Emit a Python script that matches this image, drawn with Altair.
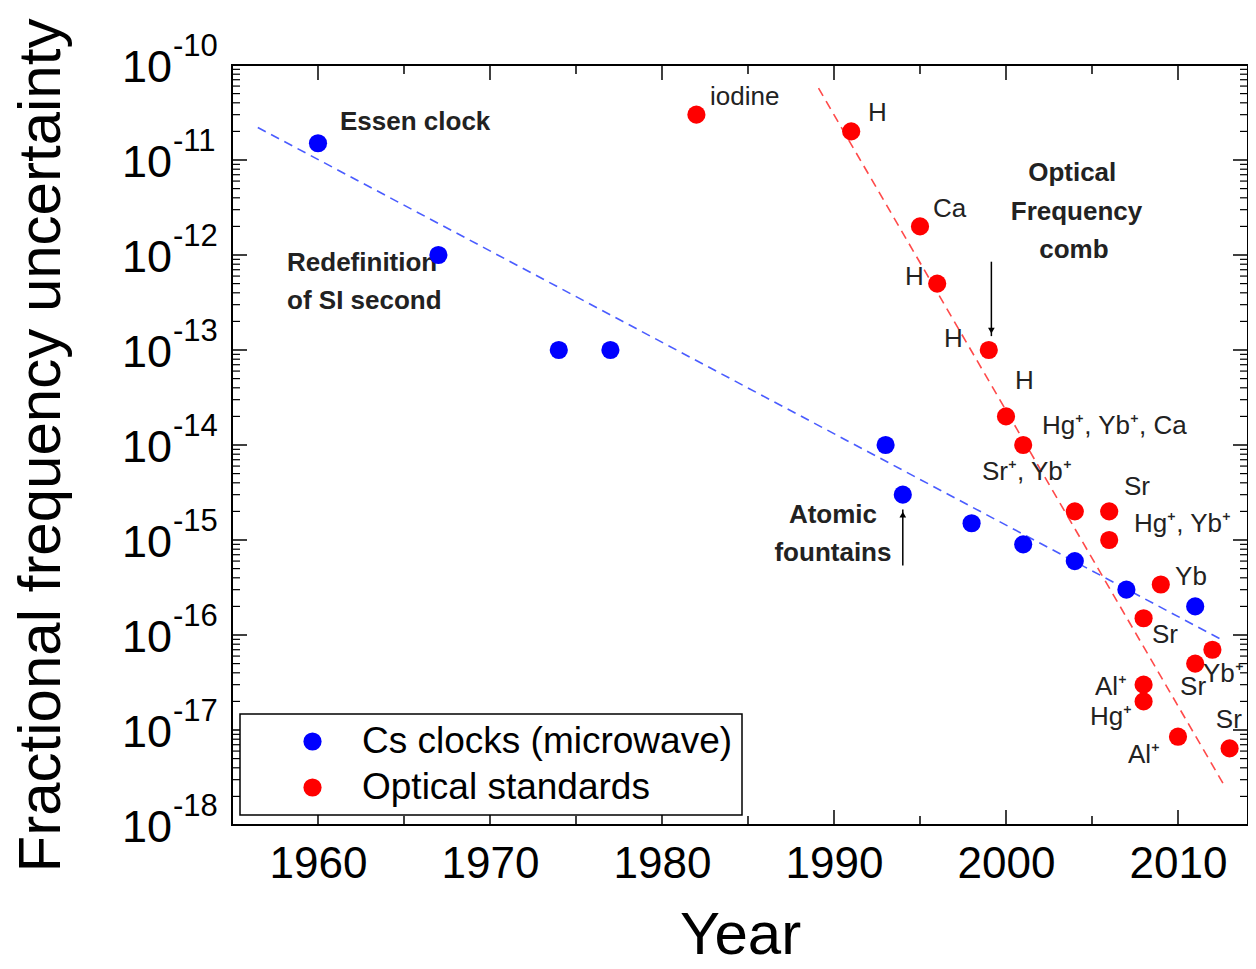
import altair as alt
import pandas as pd

FONT = "Liberation Sans, Arial, Helvetica, sans-serif"

# ---- data ----
cs_name = "Cs clocks (microwave)"
opt_name = "Optical standards"
cs_years = [1960, 1967, 1974, 1977, 1993, 1994, 1998, 2001, 2004, 2007, 2011]
cs_values = [1.5e-11, 1e-12, 1e-13, 1e-13, 1e-14, 3e-15, 1.5e-15, 9e-16, 6e-16, 3e-16, 2e-16]
opt_years = [1982, 1991, 1995, 1996, 1999, 2000, 2001, 2004, 2006, 2006,
             2009, 2008, 2012, 2011, 2008, 2008, 2010, 2013]
opt_values = [3e-11, 2e-11, 2e-12, 5e-13, 1e-13, 2e-14, 1e-14, 2e-15, 2e-15, 1e-15,
              3.4e-16, 1.5e-16, 7e-17, 5e-17, 3e-17, 2e-17, 8.5e-18, 6.4e-18]

cs_trend_years = [1956.5, 2012.5]
cs_trend_values = [2.2e-11, 9e-17]
opt_trend_years = [1989.1, 2012.75]
opt_trend_values = [5.7e-11, 2.5e-18]

# annotations (left aligned, normal weight)
ann_labels = ["iodine", "H", "Ca", "H", "H", "H", "Hg\u207a, Yb\u207a, Ca", "Sr\u207a, Yb\u207a",
              "Sr", "Hg\u207a, Yb\u207a", "Yb", "Sr", "Yb\u207a", "Sr", "Al\u207a", "Hg\u207a",
              "Al\u207a", "Sr"]
ann_years = [1982.79, 1991.98, 1995.76, 1994.13, 1996.4, 2000.52, 2002.09, 1998.6,
             2006.86, 2007.44, 2009.83, 2008.49, 2011.45, 2010.12, 2005.17, 2004.88,
             2007.09, 2012.2]
ann_values = [4.6e-11, 3.13e-11, 3.05e-12, 5.9e-13, 1.3e-13, 4.7e-14, 1.58e-14, 5.2e-15,
              3.6e-15, 1.48e-15, 4.1e-16, 1e-16, 3.9e-17, 2.84e-17, 2.84e-17, 1.37e-17,
              5.4e-18, 1.27e-17]

# bold annotations, left aligned
bold_left_labels = ["Essen clock", "Redefinition", "of SI second"]
bold_left_years = [1961.28, 1958.2, 1958.2]
bold_left_values = [2.5e-11, 8.24e-13, 3.28e-13]

# bold annotations, centred
bold_center_labels = ["Optical", "Frequency", "comb", "Atomic", "fountains"]
bold_center_years = [2003.85, 2004.1, 2003.95, 1989.94, 1989.94]
bold_center_values = [7.3e-12, 2.84e-12, 1.13e-12, 1.83e-15, 7.3e-16]

# arrows
arrow_years = [1999.15, 1994.0]
arrow_from = [8.5e-13, 5.4e-16]
arrow_to = [1.4e-13, 2.1e-15]
arrow_head_values = [1.6e-13, 1.85e-15]
arrow_head_shapes = ["triangle-down", "triangle-up"]

# axis ticks / labels
x_major = [1960, 1970, 1980, 1990, 2000, 2010]
x_minor = [1965, 1975, 1985, 1995, 2005]
y_exponents = [-10, -11, -12, -13, -14, -15, -16, -17, -18]
y_minor_mult = [2, 3, 4, 5, 6, 7, 8, 9]

W, H = 1016, 760

# ---- tables ----
points = pd.DataFrame({
    "year": cs_years + opt_years,
    "value": cs_values + opt_values,
    "series": [cs_name] * len(cs_years) + [opt_name] * len(opt_years),
})
cs_trend = pd.DataFrame({"year": cs_trend_years, "value": cs_trend_values})
opt_trend = pd.DataFrame({"year": opt_trend_years, "value": opt_trend_values})
ann = pd.DataFrame({"year": ann_years, "value": ann_values, "label": ann_labels})
bold_left = pd.DataFrame({"year": bold_left_years, "value": bold_left_values, "label": bold_left_labels})
bold_center = pd.DataFrame({"year": bold_center_years, "value": bold_center_values, "label": bold_center_labels})
arrows = pd.DataFrame({"year": arrow_years, "value": arrow_from, "value2": arrow_to})
heads = pd.DataFrame({"year": arrow_years, "value": arrow_head_values, "shape": arrow_head_shapes})
xmaj = pd.DataFrame({"year": x_major})
xmin = pd.DataFrame({"year": x_minor})
ymaj = pd.DataFrame({"value": [10.0 ** e for e in y_exponents],
                     "base": ["10"] * len(y_exponents),
                     "exp": [str(e) for e in y_exponents]})
ymin = pd.DataFrame({"value": [m * 10.0 ** e for e in y_exponents[1:] for m in y_minor_mult]})

xscale = alt.Scale(domain=[1955, 2014.07], nice=False, zero=False)
yscale = alt.Scale(type="log", domain=[1e-18, 1e-10], nice=False)
xaxis = alt.Axis(values=x_major, format="d", labelFontSize=44, labelFont=FONT, labelColor="black",
                 labelPadding=17, ticks=False, domain=False, grid=False,
                 title="Year", titleFontSize=60, titleFont=FONT, titleFontWeight="normal",
                 titleColor="black", titlePadding=20)
yaxis = alt.Axis(labels=False, ticks=False, domain=False, grid=False,
                 title="Fractional frequency uncertainty", titleFontSize=60, titleFont=FONT,
                 titleFontWeight="normal", titleColor="black", titlePadding=160)


def X():
    return alt.X("year:Q", scale=xscale, axis=xaxis)


def Y():
    return alt.Y("value:Q", scale=yscale, axis=yaxis)


tick_col = "black"
layers = []

# inside ticks
layers.append(alt.Chart(xmaj).mark_rule(color=tick_col, strokeWidth=1.5).encode(x=X(), y=alt.value(H), y2=alt.value(H - 15)))
layers.append(alt.Chart(xmaj).mark_rule(color=tick_col, strokeWidth=1.5).encode(x=X(), y=alt.value(0), y2=alt.value(15)))
layers.append(alt.Chart(xmin).mark_rule(color=tick_col, strokeWidth=1.5).encode(x=X(), y=alt.value(H), y2=alt.value(H - 9)))
layers.append(alt.Chart(xmin).mark_rule(color=tick_col, strokeWidth=1.5).encode(x=X(), y=alt.value(0), y2=alt.value(9)))
layers.append(alt.Chart(ymaj).mark_rule(color=tick_col, strokeWidth=1.5).encode(y=Y(), x=alt.value(0), x2=alt.value(15)))
layers.append(alt.Chart(ymaj).mark_rule(color=tick_col, strokeWidth=1.5).encode(y=Y(), x=alt.value(W), x2=alt.value(W - 15)))
layers.append(alt.Chart(ymin).mark_rule(color=tick_col, strokeWidth=1.2).encode(y=Y(), x=alt.value(0), x2=alt.value(8)))
layers.append(alt.Chart(ymin).mark_rule(color=tick_col, strokeWidth=1.2).encode(y=Y(), x=alt.value(W), x2=alt.value(W - 8)))

# y tick labels 10^n
layers.append(alt.Chart(ymaj).mark_text(align="right", baseline="middle", dy=3, fontSize=45, font=FONT,
                                        color="black").encode(y=Y(), x=alt.value(-60), text="base:N"))
layers.append(alt.Chart(ymaj).mark_text(align="left", baseline="middle", dy=-18, fontSize=31, font=FONT,
                                        color="black").encode(y=Y(), x=alt.value(-59), text="exp:N"))

# trend lines
layers.append(alt.Chart(cs_trend).mark_line(color="#4a5cff", strokeWidth=1.6, strokeDash=[9, 6]).encode(x=X(), y=Y()))
layers.append(alt.Chart(opt_trend).mark_line(color="#ff4a4a", strokeWidth=1.6, strokeDash=[9, 6]).encode(x=X(), y=Y()))

# arrows
layers.append(alt.Chart(arrows).mark_rule(color="black", strokeWidth=1.5).encode(x=X(), y=Y(), y2="value2:Q"))
for shp in arrow_head_shapes:
    layers.append(alt.Chart(heads).transform_filter(alt.datum.shape == shp).mark_point(
        shape=shp, filled=True, color="black", size=45, opacity=1).encode(x=X(), y=Y()))

# annotations
layers.append(alt.Chart(ann).mark_text(align="left", baseline="middle", fontSize=26, font=FONT,
                                       color="#222222").encode(x=X(), y=Y(), text="label:N"))
layers.append(alt.Chart(bold_left).mark_text(align="left", baseline="middle", fontSize=26, font=FONT,
                                             fontWeight="bold", color="#222222").encode(x=X(), y=Y(), text="label:N"))
layers.append(alt.Chart(bold_center).mark_text(align="center", baseline="middle", fontSize=26, font=FONT,
                                               fontWeight="bold", color="#222222").encode(x=X(), y=Y(), text="label:N"))

# data points
layers.append(alt.Chart(points).mark_circle(size=330, opacity=1).encode(
    x=X(), y=Y(),
    color=alt.Color("series:N",
                    scale=alt.Scale(domain=[cs_name, opt_name], range=["#0000ff", "#ff0000"]),
                    legend=alt.Legend(orient="none", legendX=8, legendY=649, title=None,
                                      labelFontSize=37, labelFont=FONT, labelColor="black",
                                      labelLimit=700, padding=9, rowPadding=8,
                                      symbolOffset=45, labelOffset=31, symbolSize=330,
                                      symbolType="circle", strokeColor="black",
                                      fillColor="white"))))

chart = alt.layer(*layers).properties(
    width=W, height=H,
    autosize=alt.AutoSizeParams(type="none"),
    padding={"left": 224, "top": 57, "right": 0, "bottom": 136},
).configure_view(stroke="black", strokeWidth=2).configure_legend(strokeWidth=1.5)

chart.save("out.html", embed_options={"renderer": "svg", "actions": False})
